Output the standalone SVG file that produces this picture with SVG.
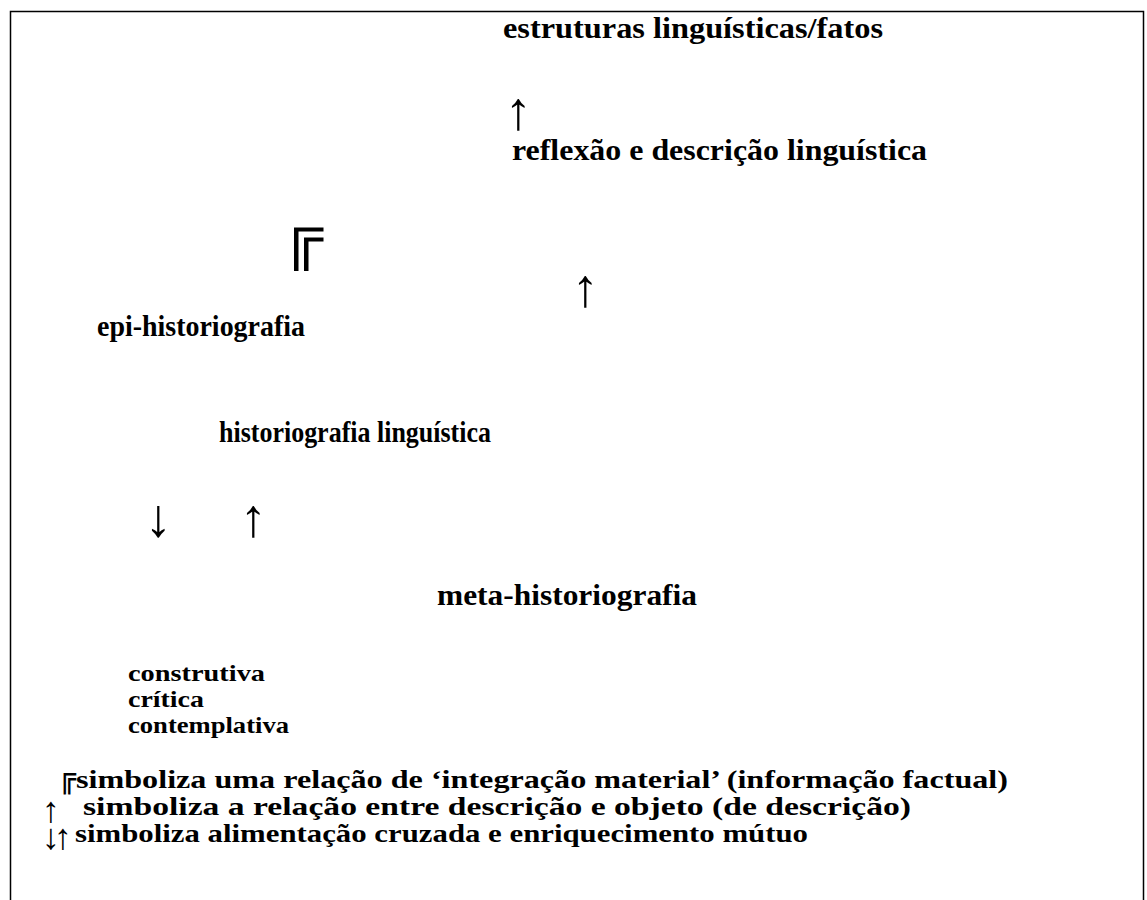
<svg xmlns="http://www.w3.org/2000/svg" width="1147" height="900" viewBox="0 0 1147 900">
<style>
.t{font-family:"Liberation Serif","DejaVu Serif",serif;font-weight:bold;fill:#000}
.m{font-size:29px}
.s{font-size:23px}
.l{font-size:25px}
.a{font-family:"Liberation Serif","DejaVu Serif",serif;font-weight:normal;font-size:54px;fill:#000}
.al{font-size:36px}
</style>
<rect width="1147" height="900" fill="#fff"/>
<path d="M10.5,900 V11.5 H1143.5 V900" fill="none" stroke="#000" stroke-width="1.5"/>
<g id="n-estruturas"><text class="t m" x="503" y="38" textLength="380" lengthAdjust="spacingAndGlyphs">estruturas linguísticas/fatos</text></g>
<g id="n-reflexao"><text class="t m" x="512" y="160" textLength="415" lengthAdjust="spacingAndGlyphs">reflexão e descrição linguística</text></g>
<g id="n-epi"><text class="t m" x="97" y="336" textLength="208" lengthAdjust="spacingAndGlyphs">epi-historiografia</text></g>
<g id="n-hist"><text class="t m" x="219" y="442" textLength="272" lengthAdjust="spacingAndGlyphs">historiografia linguística</text></g>
<g id="n-meta"><text class="t m" x="437" y="605" textLength="260" lengthAdjust="spacingAndGlyphs">meta-historiografia</text></g>
<g id="n-tipos">
<text class="t s" x="128" y="681" textLength="137" lengthAdjust="spacingAndGlyphs">construtiva</text>
<text class="t s" x="128" y="707" textLength="76" lengthAdjust="spacingAndGlyphs">crítica</text>
<text class="t s" x="128" y="733" textLength="161" lengthAdjust="spacingAndGlyphs">contemplativa</text>
</g>
<g id="connectors">
<text class="a" x="505" y="129">↑</text>
<path d="M294,271 V227.5 H323.5 V231.5 H298.5 V271 Z M304,271 V237.5 H323.5 V241.5 H308.5 V271 Z" fill="#000"/>
<text class="a" x="572" y="306">↑</text>
<text class="a" x="145" y="536">↓</text>
<text class="a" x="240" y="536">↑</text>
</g>
<g id="legenda">
<text x="58" y="787" font-family="DejaVu Sans Mono,monospace" font-size="30" fill="#000">╔</text>
<text class="t l" x="76" y="788" textLength="932" lengthAdjust="spacingAndGlyphs">simboliza uma relação de ‘integração material’ (informação factual)</text>
<text class="a al" x="42" y="822">↑</text>
<text class="t l" x="83" y="815" textLength="828" lengthAdjust="spacingAndGlyphs">simboliza a relação entre descrição e objeto (de descrição)</text>
<text class="a al" x="42" y="849">↓<tspan dx="-6">↑</tspan></text>
<text class="t l" x="75" y="842" textLength="733" lengthAdjust="spacingAndGlyphs">simboliza alimentação cruzada e enriquecimento mútuo</text>
</g>
</svg>
